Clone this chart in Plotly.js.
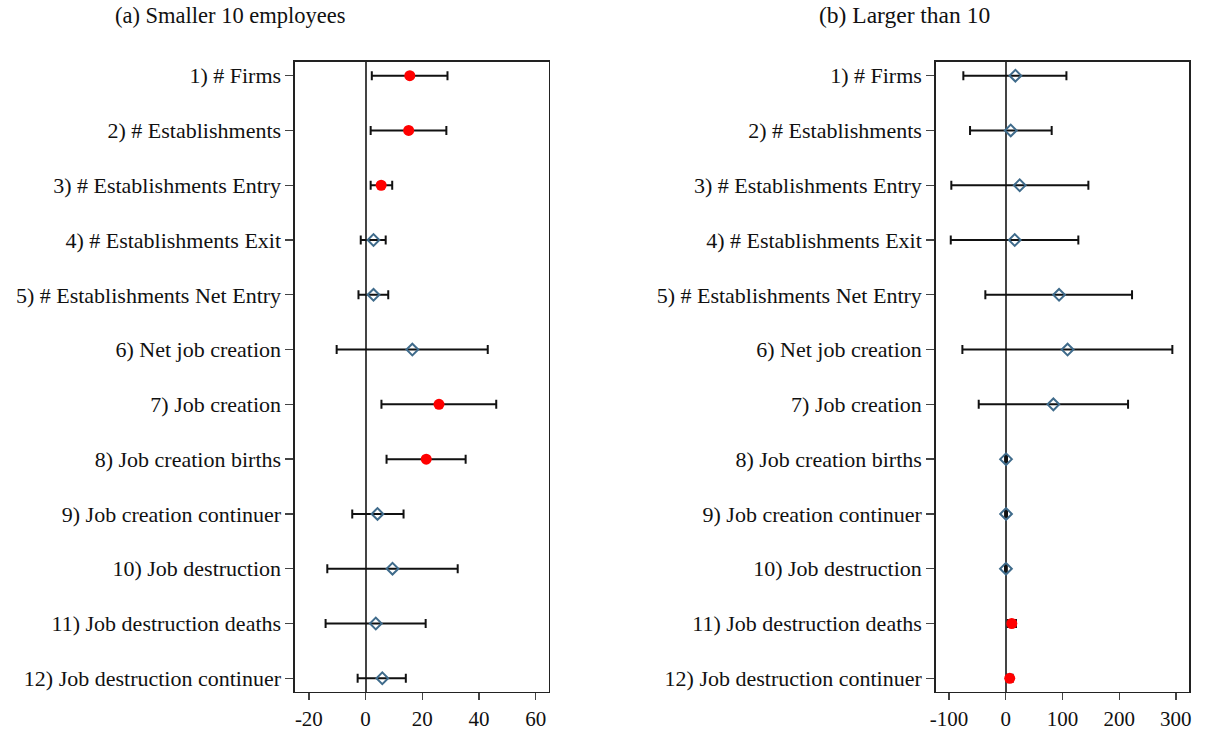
<!DOCTYPE html>
<html>
<head>
<meta charset="utf-8">
<script src="https://cdn.plot.ly/plotly-3.0.1.min.js"></script>
<style>
  html, body { margin: 0; padding: 0; background: #ffffff; }
  #chart { width: 1206px; height: 730px; }
</style>
</head>
<body>
<div id="chart"></div>
<script>
// Outcome labels (rows, top to bottom)
const outcomes = [
  "1) # Firms",
  "2) # Establishments",
  "3) # Establishments Entry",
  "4) # Establishments Exit",
  "5) # Establishments Net Entry",
  "6) Net job creation",
  "7) Job creation",
  "8) Job creation births",
  "9) Job creation continuer",
  "10) Job destruction",
  "11) Job destruction deaths",
  "12) Job destruction continuer"
];

// Panel (a): establishments smaller than 10 employees
const smallEst = [15.6, 15.2, 5.5, 2.8, 2.8, 16.5, 25.9, 21.4, 4.2, 9.5, 3.6, 5.9];
const smallLo  = [2.2, 1.8, 1.8, -1.7, -2.5, -10.2, 5.6, 7.4, -4.7, -13.5, -14.1, -2.8];
const smallHi  = [28.9, 28.5, 9.4, 7.1, 8.0, 43.1, 46.1, 35.3, 13.4, 32.5, 21.2, 14.2];

// Panel (b): establishments larger than 10 employees
const largeEst = [17, 8.8, 24.6, 15.8, 94, 109, 84, 0.5, 0.5, 0.3, 10.6, 7.0];
const largeLo  = [-74.8, -63, -96, -97, -36, -76.5, -47.7, -1.2, -1.2, -1.3, 3.5, 2.5];
const largeHi  = [107, 81, 145.7, 128, 222.7, 293.8, 215.7, 2.2, 2.2, 1.9, 18, 12];

const xTicksSmall = [-20, 0, 20, 40, 60];
const xTicksLarge = [-100, 0, 100, 200, 300];

const rowPos = outcomes.map((_, i) => i + 1);

const RED = "#ff0000";
const BLUE = "#3f6b8b";
const FONT = "Liberation Serif, serif";

// Split one panel into significant (CI excludes zero) and other estimates
function panelTraces(est, lo, hi, xa, ya) {
  const groups = { sig: [], ns: [] };
  est.forEach((v, i) => {
    const sig = lo[i] > 0 || hi[i] < 0;
    groups[sig ? "sig" : "ns"].push(i);
  });
  const make = (idx, marker) => ({
    type: "scatter",
    mode: "markers",
    xaxis: xa, yaxis: ya,
    x: idx.map(i => est[i]),
    y: idx.map(i => rowPos[i]),
    error_x: {
      type: "data", symmetric: false,
      array: idx.map(i => hi[i] - est[i]),
      arrayminus: idx.map(i => est[i] - lo[i]),
      color: "#111111", thickness: 2, width: 4.5
    },
    marker: marker,
    showlegend: false,
    hoverinfo: "x+y"
  });
  return [
    make(groups.ns, { symbol: "diamond-open", size: 9, color: BLUE, line: { color: BLUE, width: 2 } }),
    make(groups.sig, { symbol: "circle", size: 11, color: RED })
  ];
}

const data = [
  ...panelTraces(smallEst, smallLo, smallHi, "x", "y"),
  ...panelTraces(largeEst, largeLo, largeHi, "x2", "y2")
];

// Plain hyphen for negative tick labels
const tickText = vals => vals.map(v => String(v));

const xBase = {
  showline: true, mirror: true, linecolor: "#222222", linewidth: 1.5,
  ticks: "outside", ticklen: 7, tickwidth: 1.3, tickcolor: "#444444",
  showgrid: false,
  zeroline: true, zerolinecolor: "#444444", zerolinewidth: 2,
  tickfont: { family: FONT, size: 21, color: "#111111" }
};
const yBase = {
  showline: true, mirror: true, linecolor: "#222222", linewidth: 1.5,
  ticks: "outside", ticklen: 8, tickwidth: 1.3, tickcolor: "#444444",
  showgrid: false, zeroline: false,
  range: [12.25, 0.75],
  tickmode: "array", tickvals: rowPos, ticktext: outcomes,
  tickfont: { family: FONT, size: 22, color: "#111111" },
  domain: [0.0521, 0.9151]
};

const layout = {
  width: 1206, height: 730,
  margin: { l: 0, r: 0, t: 0, b: 0 },
  paper_bgcolor: "#ffffff", plot_bgcolor: "#ffffff",
  xaxis: Object.assign({}, xBase, {
    domain: [0.2446, 0.4552], range: [-24.9, 64.7],
    tickmode: "array", tickvals: xTicksSmall, ticktext: tickText(xTicksSmall), anchor: "y"
  }),
  yaxis: Object.assign({}, yBase, { anchor: "x" }),
  xaxis2: Object.assign({}, xBase, {
    domain: [0.7759, 0.9862], range: [-123.5, 323.8],
    tickmode: "array", tickvals: xTicksLarge, ticktext: tickText(xTicksLarge), anchor: "y2"
  }),
  yaxis2: Object.assign({}, yBase, { anchor: "x2" }),
  annotations: [
    { text: "(a) Smaller 10 employees", xref: "paper", yref: "paper",
      x: 0.1915, y: 0.979, xanchor: "center", yanchor: "middle", showarrow: false,
      font: { family: FONT, size: 22.5, color: "#111111" } },
    { text: "(b) Larger than 10", xref: "paper", yref: "paper",
      x: 0.7496, y: 0.979, xanchor: "center", yanchor: "middle", showarrow: false,
      font: { family: FONT, size: 23.5, color: "#111111" } }
  ]
};

Plotly.newPlot("chart", data, layout, { displayModeBar: false, staticPlot: true });
</script>
</body>
</html>
